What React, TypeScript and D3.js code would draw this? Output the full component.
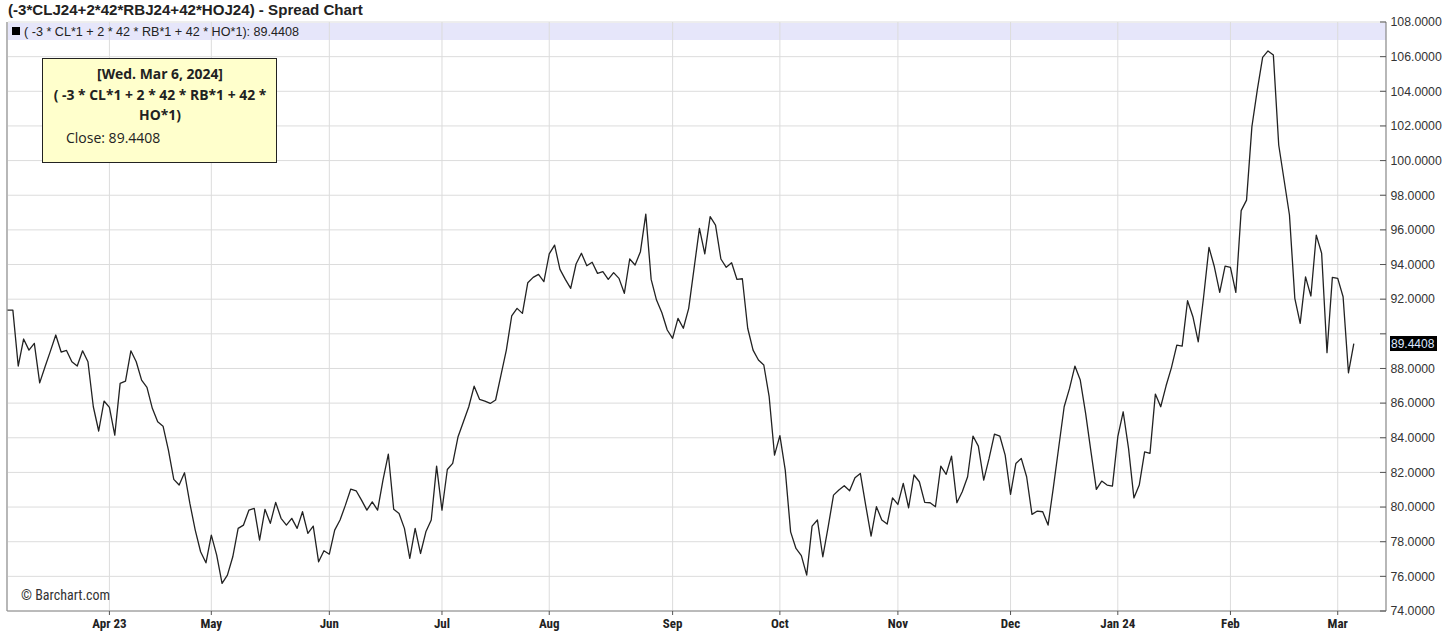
import React from "react";
import * as d3 from "d3";

const closes: number[] = [
  91.37, 91.37, 88.14, 89.70, 89.06, 89.45, 87.17, 88.10, 89.00, 89.93,
  88.95, 89.04, 88.39, 88.14, 89.02, 88.39, 85.79, 84.39, 86.12, 85.75,
  84.15, 87.14, 87.27, 89.02, 88.39, 87.33, 86.91, 85.70, 84.92, 84.67,
  83.29, 81.60, 81.27, 81.98, 80.21, 78.67, 77.42, 76.78, 78.38, 77.23,
  75.59, 76.07, 77.13, 78.77, 78.96, 79.82, 79.92, 78.09, 79.87, 79.06,
  80.27, 79.35, 78.96, 79.35, 78.77, 79.73, 78.48, 78.90, 76.84, 77.48,
  77.28, 78.67, 79.25, 80.11, 81.04, 80.94, 80.40, 79.82, 80.30, 79.82,
  81.56, 83.06, 79.87, 79.63, 78.77, 77.04, 78.77, 77.32, 78.57, 79.25,
  82.36, 79.82, 82.17, 82.52, 84.06, 84.92, 85.79, 86.98, 86.22, 86.12,
  85.98, 86.18, 87.62, 89.06, 91.03, 91.47, 91.18, 92.95, 93.26, 93.43,
  93.01, 94.61, 95.12, 93.72, 93.14, 92.62, 94.03, 94.65, 93.93, 94.13,
  93.49, 93.59, 93.14, 93.53, 93.20, 92.34, 94.32, 93.97, 94.74, 96.91,
  93.14, 91.95, 91.22, 90.22, 89.74, 90.89, 90.32, 91.47, 93.78, 96.09,
  94.61, 96.76, 96.28, 94.32, 93.84, 94.10, 93.14, 93.18, 90.32, 89.06,
  88.49, 88.20, 86.37, 83.00, 84.12, 82.13, 78.57, 77.61, 77.20, 76.07,
  78.90, 79.25, 77.13, 78.86, 80.69, 80.98, 81.23, 80.94, 81.69, 81.94,
  80.10, 78.32, 80.02, 79.25, 79.02, 80.53, 80.15, 81.37, 79.96, 81.85,
  81.46, 80.27, 80.25, 80.02, 82.36, 81.89, 82.94, 80.25, 80.88, 81.75,
  84.10, 83.52, 81.56, 82.81, 84.21, 84.10, 83.00, 80.73, 82.52, 82.81,
  81.75, 79.58, 79.77, 79.73, 78.96, 81.17, 83.48, 85.79, 86.85, 88.14,
  87.33, 85.41, 83.19, 81.02, 81.50, 81.27, 81.21, 84.06, 85.50, 83.39,
  80.53, 81.27, 83.19, 83.10, 86.52, 85.79, 87.00, 88.05, 89.35, 89.29,
  91.91, 90.99, 89.54, 92.14, 94.99, 93.87, 92.39, 93.91, 93.84, 92.39,
  97.11, 97.72, 101.96, 104.07, 105.96, 106.33, 106.09, 100.90, 98.88, 96.86,
  92.05, 90.60, 93.29, 92.18, 95.70, 94.65, 88.91, 93.26, 93.20, 92.14,
  87.75, 89.4408,
];

const monthLabels: string[] = ["Apr 23", "May", "Jun", "Jul", "Aug", "Sep", "Oct", "Nov", "Dec", "Jan 24", "Feb", "Mar"];
const monthStartIndex: number[] = [19, 38, 60, 81, 101, 124, 144, 166, 187, 207, 228, 248];
const yTickValues: number[] = [74, 76, 78, 80, 82, 84, 86, 88, 90, 92, 94, 96, 98, 100, 102, 104, 106, 108];

const titleText = "(-3*CLJ24+2*42*RBJ24+42*HOJ24) - Spread Chart";
const legendText = "( -3 * CL*1 + 2 * 42 * RB*1 + 42 * HO*1): 89.4408";
const tooltipLines: string[] = ["[Wed. Mar 6, 2024]", "( -3 * CL*1 + 2 * 42 * RB*1 + 42 *", "HO*1)"];
const tooltipClose = "Close: 89.4408";
const lastLabel = "89.4408";

export default function App() {
  const W = 1456, H = 641;
  const left = 7.5, right = 1386, top = 22, bottom = 611;
  const x = d3.scaleLinear().domain([0, 257]).range([left, right]);
  const y = d3.scaleLinear().domain([74, 108]).range([bottom, top]);
  const line = d3.line<number>().x((_, i) => x(i)).y((d) => y(d));
  const last = closes[closes.length - 1];
  const axisFont = "'Liberation Sans', Arial, sans-serif";
  const narrowFont = "'Liberation Sans Narrow', 'Arial Narrow', 'Roboto Condensed', 'Liberation Sans', sans-serif";
  const tipFont = "'Open Sans', 'Noto Sans', sans-serif";

  return (
    <svg width={W} height={H} style={{ position: "absolute", left: 0, top: 0, background: "#fff" }}>
      <rect x={0} y={0} width={W} height={H} fill="#fff" />
      <text x={8} y={15} fontFamily={axisFont} fontWeight="bold" fontSize={15.1} fill="#222">{titleText}</text>

      {/* legend band */}
      <rect x={8} y={23} width={right - 8} height={17} fill="#e6e6fa" />

      {/* horizontal grid */}
      {yTickValues.map((v) => (
        <line key={"hg" + v} x1={8} x2={right} y1={y(v)} y2={y(v)} stroke="#dcdcdc" strokeWidth={1} />
      ))}
      {/* vertical grid */}
      {monthStartIndex.map((m) => (
        <line key={"vg" + m} x1={x(m)} x2={x(m)} y1={top} y2={bottom} stroke="#dcdcdc" strokeWidth={1} />
      ))}

      {/* legend text */}
      <rect x={12} y={27} width={8} height={8} fill="#000" />
      <text x={24} y={36} fontFamily={axisFont} fontSize={12.6} fill="#222">{legendText}</text>

      {/* frame */}
      <line x1={7} x2={7} y1={top} y2={bottom} stroke="#888" strokeWidth={1.2} />
      <line x1={7} x2={right} y1={bottom} y2={bottom} stroke="#888" strokeWidth={1.2} />
      <line x1={right} x2={right} y1={top} y2={bottom} stroke="#888" strokeWidth={1.2} />

      {/* right axis ticks and labels */}
      {yTickValues.map((v) => (
        <g key={"yt" + v}>
          <line x1={right - 6} x2={right} y1={y(v)} y2={y(v)} stroke="#555" />
          {Math.abs(y(v) - y(last)) > 13 && (
            <text x={right + 4.5} y={y(v)} dy="0.35em" fontFamily={axisFont} fontSize={12.3} fill="#333">{v.toFixed(4)}</text>
          )}
        </g>
      ))}

      {/* bottom ticks and labels */}
      {monthStartIndex.map((m, i) => (
        <g key={"xt" + m}>
          <line x1={x(m)} x2={x(m)} y1={bottom} y2={bottom + 4} stroke="#555" />
          <text x={x(m)} y={628} textAnchor="middle" fontFamily={narrowFont} fontWeight="bold" fontSize={13} fill="#222">{monthLabels[i]}</text>
        </g>
      ))}

      {/* price line */}
      <path d={line(closes) || ""} fill="none" stroke="#222" strokeWidth={1.3} strokeLinejoin="round" />

      {/* last value label */}
      <rect x={right + 4} y={y(last) - 7.5} width={47} height={15} fill="#000" />
      <text x={right + 5} y={y(last)} dy="0.35em" fontFamily={axisFont} fontSize={12} fill="#dde8ff">{lastLabel}</text>

      <text x={21} y={600} fontFamily={narrowFont} fontSize={14} fill="#333">© Barchart.com</text>

      {/* tooltip */}
      <rect x={42.5} y={58.5} width={234} height={104} fill="#ffffcc" stroke="#222" strokeWidth={1} />
      {tooltipLines.map((t, i) => (
        <text key={"tl" + i} x={160} y={79 + i * 20.5} textAnchor="middle" fontFamily={tipFont} fontWeight="bold" fontSize={13.9} fill="#222">{t}</text>
      ))}
      <text x={66} y={143} fontFamily={tipFont} fontSize={14} fill="#222">{tooltipClose}</text>
    </svg>
  );
}
